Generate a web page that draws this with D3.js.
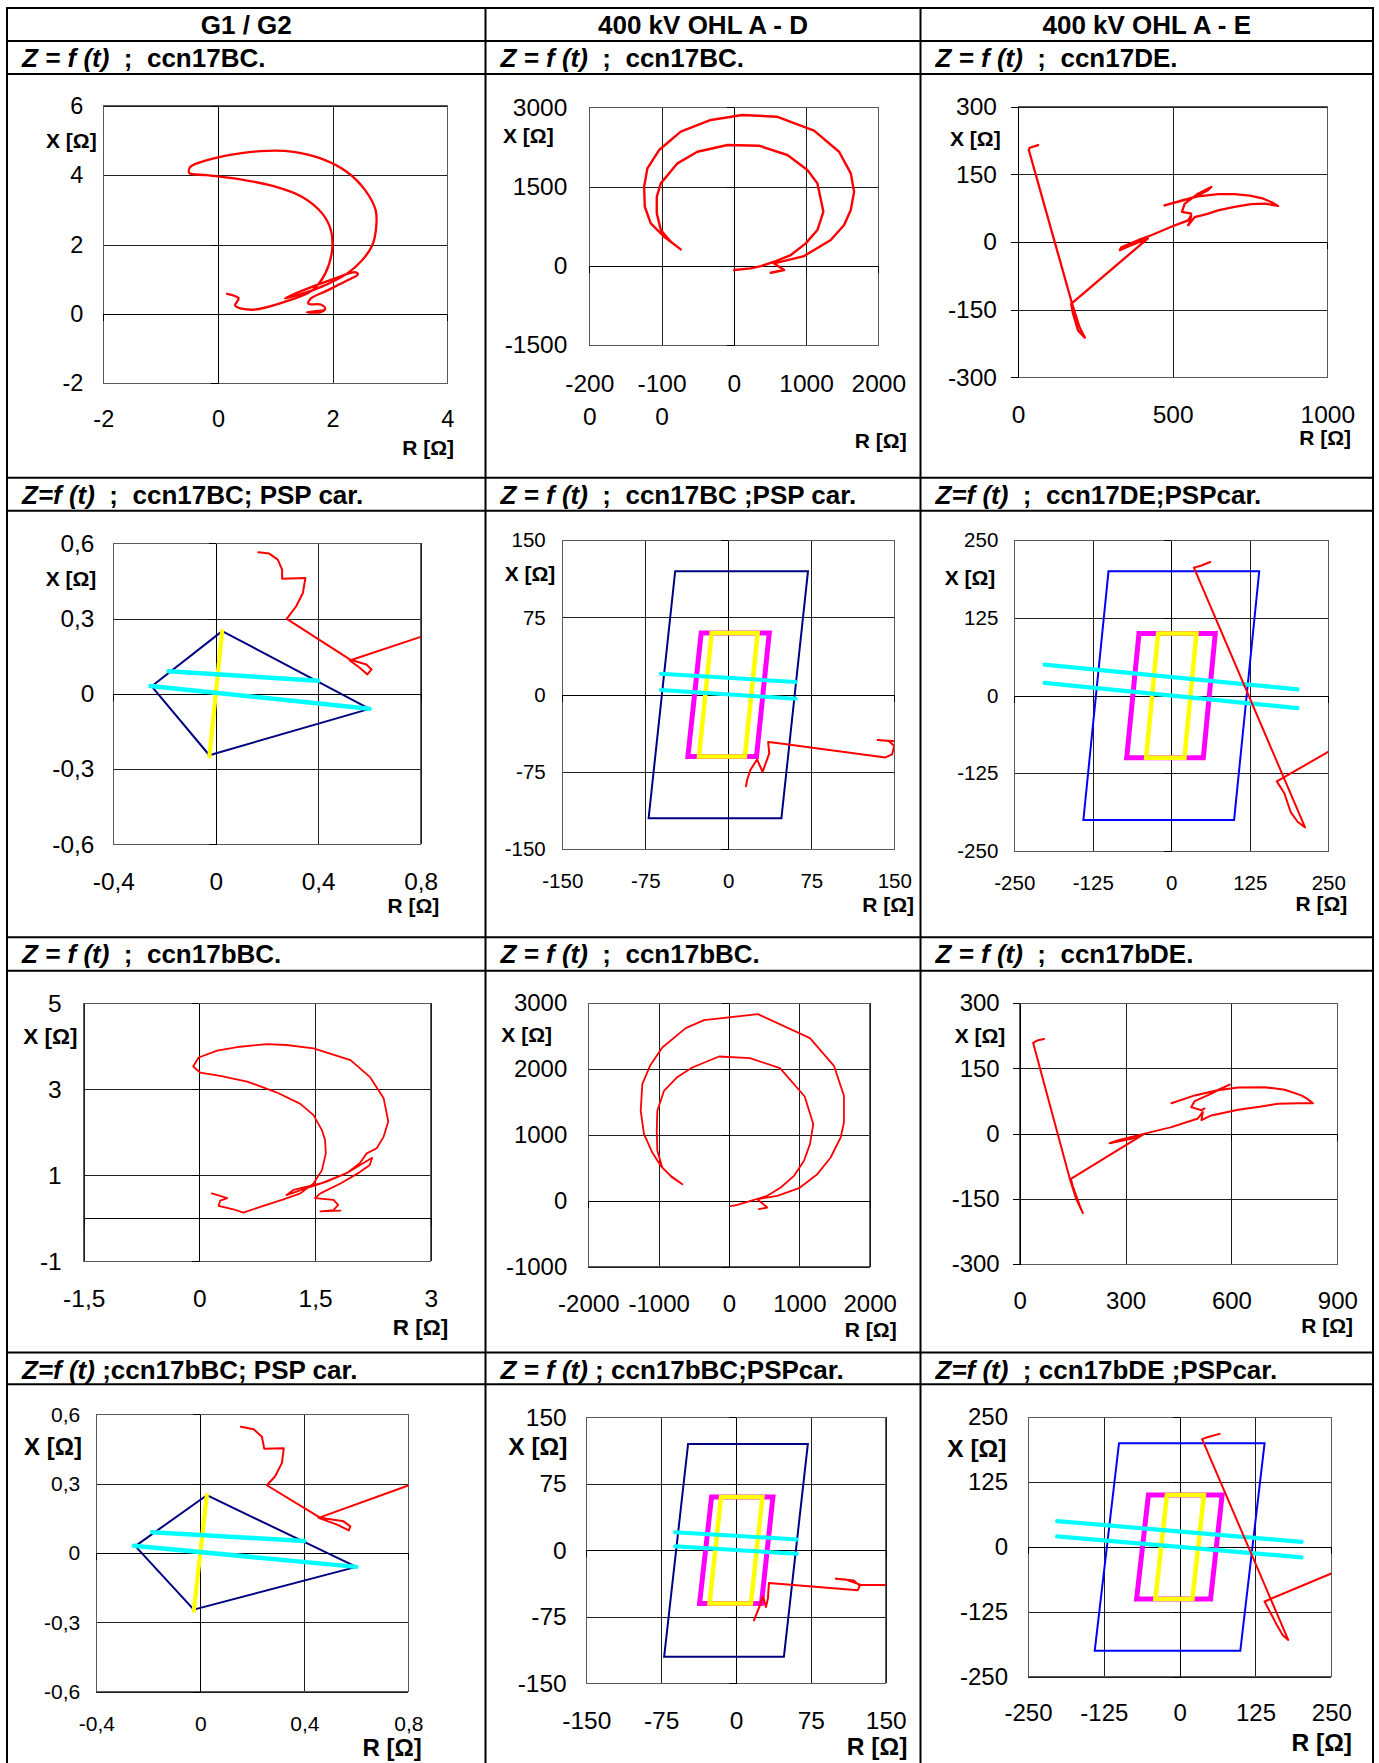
<!DOCTYPE html>
<html>
<head>
<meta charset="utf-8">
<script src="https://cdn.jsdelivr.net/npm/d3@7"></script>
<style>
  body { margin: 0; background: #fff; }
  svg text { font-family: "Liberation Sans", Arial, Helvetica, sans-serif; }
</style>
</head>
<body>
<svg id="chart" width="1379" height="1763"></svg>
<script>
// ---------- table text ----------
const headers = ["G1 / G2", "400 kV OHL A - D", "400 kV OHL A - E"];
const titles = [
  ["Z = f (t)", "  ;  ccn17BC."], ["Z = f (t)", "  ;  ccn17BC."], ["Z = f (t)", "  ;  ccn17DE."],
  ["Z=f (t)", "  ;  ccn17BC; PSP car."], ["Z = f (t)", "  ;  ccn17BC ;PSP car."], ["Z=f (t)", "  ;  ccn17DE;PSPcar."],
  ["Z = f (t)", "  ;  ccn17bBC."], ["Z = f (t)", "  ;  ccn17bBC."], ["Z = f (t)", "  ;  ccn17bDE."],
  ["Z=f (t)", " ;ccn17bBC; PSP car."], ["Z = f (t)", " ; ccn17bBC;PSPcar."], ["Z=f (t)", "  ; ccn17bDE ;PSPcar."]
];

// ---------- axis tick values (R and X in ohms) ----------
const g1BcR = [-2, 0, 2, 4],            g1BcX = [-2, 0, 2, 4, 6];
const adBcR = [-2000, -1000, 0, 1000, 2000], adBcX = [-1500, 0, 1500, 3000];
const aeDeR = [0, 500, 1000],           aeDeX = [-300, -150, 0, 150, 300];
const g1CarR = [-0.4, 0, 0.4, 0.8],     g1CarX = [-0.6, -0.3, 0, 0.3, 0.6];
const adCarR = [-150, -75, 0, 75, 150], adCarX = [-150, -75, 0, 75, 150];
const aeCarR = [-250, -125, 0, 125, 250], aeCarX = [-250, -125, 0, 125, 250];
const g1BbcR = [-1.5, 0, 1.5, 3],       g1BbcX = [-1, 1, 3, 5];
const adBbcR = [-2000, -1000, 0, 1000, 2000], adBbcX = [-1000, 0, 1000, 2000, 3000];
const aeBdeR = [0, 300, 600, 900],      aeBdeX = [-300, -150, 0, 150, 300];

// ---------- impedance trajectories [R, X] ----------
const zG1ccn17BC = [[0.16,0.58],[0.36,0.45],[0.30,0.24],[0.59,0.12],[1.15,0.34],[1.64,0.67],[1.87,1.16],[1.99,1.83],[1.97,2.41],[1.82,2.89],[1.47,3.37],[0.97,3.68],[0.39,3.88],[-0.19,4.00],[-0.50,4.06],[-0.48,4.24],[-0.19,4.43],[0.27,4.60],[0.86,4.70],[1.32,4.67],[1.79,4.48],[2.25,4.09],[2.57,3.56],[2.75,2.99],[2.76,2.50],[2.69,1.97],[2.51,1.54],[2.25,1.16],[1.79,0.77],[1.26,0.48],[1.17,0.45],[1.44,0.65],[2.02,1.01],[2.40,1.20],[2.44,1.14],[2.25,0.96],[1.90,0.67],[1.61,0.43],[1.58,0.29],[1.79,0.27],[1.87,0.15],[1.79,0.05],[1.55,0.05],[1.84,0.10]];
const zADccn17BC = [[512,-133],[696,-81],[558,45],[973,184],[1342,487],[1527,771],[1619,1055],[1665,1402],[1619,1750],[1457,2159],[1111,2557],[595,2822],[119,2854],[-318,2760],[-734,2538],[-1034,2191],[-1196,1845],[-1241,1496],[-1232,1117],[-1149,803],[-965,549],[-734,310],[-872,455],[-1010,676],[-1066,992],[-1066,1307],[-1010,1560],[-780,1939],[-504,2159],[-88,2286],[350,2273],[742,2097],[1019,1813],[1157,1560],[1240,1023],[1157,676],[996,424],[789,203],[558,76],[374,-6],[235,-49],[4,-81]];
const zAEccn17DE = [[65,215],[38,209],[35,204],[175,-137],[199,-189],[216,-212],[194,-196],[178,-159],[172,-137],[420,8],[366,-7],[329,-18],[334,-12],[388,4],[431,15],[507,37],[550,48],[560,59],[555,44],[550,37],[571,55],[610,62],[647,70],[700,78],[754,84],[800,85],[841,80],[820,88],[790,97],[750,103],[700,106],[647,106],[582,101],[539,94],[474,81],[528,91],[571,100],[614,115],[625,122],[582,107],[539,85],[530,67],[560,63]];
const zG1ccn17BCcar = [[0.166,0.564],[0.209,0.559],[0.242,0.535],[0.259,0.495],[0.259,0.459],[0.350,0.462],[0.340,0.402],[0.314,0.349],[0.277,0.299],[0.523,0.137],[0.588,0.117],[0.608,0.097],[0.592,0.077],[0.562,0.104],[0.523,0.133],[0.8,0.227],[1.0,0.295]];
const zADccn17BCcar = [[171,-47],[135,-44],[145,-45],[150,-50],[148,-58],[142,-61],[44,-47],[36,-46],[37,-57],[34,-66],[31,-75],[26,-63],[20,-73],[17,-83],[16,-89]];
const zAEccn17DEcar = [[62,215],[47,209],[36,206],[213,-212],[201,-203],[190,-187],[180,-157],[168,-138],[249,-91],[300,-62]];
const zG1ccn17bBC = [[0.16,0.58],[0.27,0.52],[0.36,0.47],[0.27,0.41],[0.25,0.29],[0.44,0.21],[0.57,0.13],[0.83,0.29],[1.09,0.44],[1.31,0.58],[1.48,0.81],[1.59,1.12],[1.64,1.51],[1.63,1.82],[1.59,2.05],[1.48,2.40],[1.31,2.66],[1.00,2.93],[0.62,3.18],[0.27,3.31],[0.01,3.39],[-0.08,3.53],[-0.01,3.74],[0.23,3.90],[0.53,3.99],[0.87,4.05],[1.13,4.03],[1.48,3.95],[1.96,3.68],[2.21,3.29],[2.39,2.79],[2.45,2.25],[2.39,1.90],[2.30,1.63],[2.17,1.51],[2.08,1.28],[1.91,1.05],[1.65,0.85],[1.39,0.70],[1.13,0.54],[1.22,0.66],[1.57,0.81],[1.91,1.05],[2.24,1.41],[2.21,1.24],[2.06,1.05],[1.83,0.81],[1.57,0.58],[1.50,0.47],[1.74,0.43],[1.80,0.31],[1.74,0.19],[1.57,0.16],[1.83,0.18]];
const zADccn17bBC = [[426,-127],[544,-101],[402,25],[686,76],[995,192],[1255,405],[1445,658],[1587,962],[1634,1190],[1634,1595],[1492,2051],[1151,2471],[412,2835],[-355,2745],[-615,2623],[-948,2329],[-1123,2051],[-1232,1772],[-1255,1367],[-1208,1013],[-1090,734],[-971,532],[-829,380],[-663,253],[-806,354],[-948,506],[-1019,760],[-1027,1063],[-1019,1367],[-924,1671],[-743,1873],[-522,2025],[-142,2192],[298,2167],[725,2015],[1076,1585],[1198,1165],[1151,861],[1066,608],[924,380],[735,202],[544,76],[308,0],[118,-61],[24,-81]];
const zAEccn17bDE = [[69,218],[52,215],[38,209],[142,-104],[160,-150],[179,-183],[170,-165],[150,-120],[145,-104],[354,0],[316,-12],[255,-22],[279,-15],[354,0],[430,15],[505,35],[519,50],[515,31],[543,42],[619,55],[680,62],[732,69],[790,70],[831,70],[815,80],[798,88],[751,101],[694,107],[619,106],[562,100],[496,88],[430,70],[496,88],[560,100],[595,113],[543,92],[496,75],[486,61],[515,54],[524,58]];
const zG1ccn17bBCcar = [[0.156,0.546],[0.205,0.535],[0.237,0.503],[0.246,0.451],[0.321,0.453],[0.314,0.39],[0.288,0.332],[0.256,0.293],[0.462,0.152],[0.551,0.137],[0.577,0.115],[0.571,0.098],[0.526,0.123],[0.455,0.152],[0.8,0.292],[1.0,0.373]];
const zADccn17bBCcar = [[182,-40],[150,-39],[125,-39],[110,-33],[100,-32],[118,-34],[124,-40],[122,-45],[33,-37],[32,-54],[30,-64],[27,-52],[23,-65],[18,-79]];
const zAEccn17bDEcar = [[66,218],[47,212],[37,208],[179,-179],[170,-170],[160,-150],[140,-105],[250,-51],[300,-27]];

// ---------- protection characteristics [R, X] ----------
const g1Quad = [[0.025,0.25],[0.6,-0.06],[-0.025,-0.245],[-0.25,0.03]];
const g1Yellow = [[0.025,0.25],[-0.025,-0.25]];
const g1CyanUpper = [[-0.185,0.09],[0.4,0.052]];
const g1CyanLower = [[-0.255,0.031],[0.6,-0.06]];

const adOuter = [[-48,120],[72,120],[48,-120],[-72,-120]];
const adMagenta = [[-24.5,60],[37,60],[25.5,-60],[-36.5,-60]];
const adYellow = [[-15,60],[26.5,60],[15,-60],[-26.5,-60]];
const adCyanUpper = [[-61,20.3],[61,12.3]];
const adCyanLower = [[-61,4.5],[61,-4]];

const aeOuter = [[-100,200],[140,200],[100,-200],[-140,-200]];
const aeMagenta = [[-51.5,100],[70,100],[51,-100],[-71,-100]];
const aeYellow = [[-21,100],[40,100],[21,-100],[-40,-100]];
const aeCyanUpper = [[-202,50],[201,10]];
const aeCyanLower = [[-202,20.5],[201,-20]];

// ---------- styling ----------
const FONT = '"Liberation Sans", Arial, Helvetica, sans-serif';
const RED = "#ff0000", NAVY = "#000080", BLUE = "#0000ff", MAGENTA = "#ff00ff", YELLOW = "#ffff00", CYAN = "#00ffff";
const loc = d3.formatLocale({ decimal: ",", thousands: "", grouping: [3], currency: ["", ""], minus: "-" });
const fmt = loc.format("~g");

const svg = d3.select("#chart");
const defs = svg.append("defs");

// table frame
const colX = [7, 485.5, 920.5, 1373];
const rowY = [8, 41, 74, 477.7, 510.7, 937.3, 970.7, 1352.5, 1384.3];
const titleTops = [41, 477.7, 937.3, 1352.5];
const frame = svg.append("g").attr("stroke", "#000").attr("stroke-width", 2);
rowY.forEach(yv => frame.append("line").attr("x1", colX[0] - 1).attr("x2", colX[3] + 1).attr("y1", yv).attr("y2", yv));
colX.forEach(xv => frame.append("line").attr("x1", xv).attr("x2", xv).attr("y1", rowY[0] - 1).attr("y2", 1763));

headers.forEach((h, i) => {
  svg.append("text").attr("x", (colX[i] + colX[i + 1]) / 2).attr("y", 33.5)
    .attr("text-anchor", "middle").attr("font-weight", "bold").attr("font-size", 26).text(h);
});

titles.forEach((t, i) => {
  const col = i % 3, row = Math.floor(i / 3);
  const txt = svg.append("text").attr("x", colX[col] + 15).attr("y", titleTops[row] + 26)
    .attr("font-weight", "bold").attr("font-size", 26).style("white-space", "pre");
  txt.append("tspan").attr("font-style", "italic").text(t[0]);
  txt.append("tspan").text(t[1]);
});

// ---------- panels ----------
function lineSet(kind) {
  if (kind === "g1") return [
    { data: g1Quad, color: NAVY, width: 2, closed: true },
    { data: g1Yellow, color: YELLOW, width: 4.2 },
    { data: g1CyanUpper, color: CYAN, width: 4.5 },
    { data: g1CyanLower, color: CYAN, width: 4.5 }
  ];
  if (kind === "ad") return [
    { data: adOuter, color: NAVY, width: 2, closed: true, join: "miter" },
    { data: adMagenta, color: MAGENTA, width: 5, closed: true, join: "miter" },
    { data: adYellow, color: YELLOW, width: 4.5, closed: true, join: "miter" },
    { data: adCyanUpper, color: CYAN, width: 4 },
    { data: adCyanLower, color: CYAN, width: 4 }
  ];
  return [
    { data: aeOuter, color: BLUE, width: 2, closed: true, join: "miter" },
    { data: aeMagenta, color: MAGENTA, width: 5, closed: true, join: "miter" },
    { data: aeYellow, color: YELLOW, width: 4.5, closed: true, join: "miter" },
    { data: aeCyanUpper, color: CYAN, width: 4.2 },
    { data: aeCyanLower, color: CYAN, width: 4.2 }
  ];
}

const panels = [
  { id: 1, rT: g1BcR, xT: g1BcX, box: [103.3, 447.3, 105.7, 383.3], tick: 23.5, xPad: 27, yPad: 20, ax: 21, xLab: [46, 140], rLab: [454, 447],
    series: [{ data: zG1ccn17BC, color: RED, width: 2.3, smooth: true }] },
  { id: 2, rT: adBcR, xT: adBcX, box: [589.3, 878.3, 107.3, 345], tick: 24.5, xPad: 30, yPad: 22, ax: 21, xLab: [503, 135], rLab: [906.7, 440], wrap: 4,
    series: [{ data: zADccn17BC, color: RED, width: 2.4 }] },
  { id: 3, rT: aeDeR, xT: aeDeX, box: [1018, 1327.3, 106.7, 377.3], tick: 24.5, xPad: 28, yPad: 21, ax: 21, xLab: [950, 138], rLab: [1351, 437.5],
    series: [{ data: zAEccn17DE, color: RED, width: 2.3 }] },
  { id: 4, rT: g1CarR, xT: g1CarX, box: [113.3, 420.7, 543.3, 844.3], tick: 24.4, xPad: 28, yPad: 19, ax: 21, xLab: [45.7, 578.3], rLab: [439.3, 905],
    series: lineSet("g1").concat([{ data: zG1ccn17BCcar, color: RED, width: 2 }]) },
  { id: 5, rT: adCarR, xT: adCarX, box: [562.3, 894.3, 540.3, 849], tick: 20.5, xPad: 24, yPad: 16.6, ax: 21, xLab: [504.7, 573.3], rLab: [914, 904],
    series: lineSet("ad").concat([{ data: zADccn17BCcar, color: RED, width: 2 }]) },
  { id: 6, rT: aeCarR, xT: aeCarX, box: [1014.3, 1328.3, 540.3, 851], tick: 20.5, xPad: 24, yPad: 16, ax: 21, xLab: [944.7, 577.3], rLab: [1347.3, 903],
    series: lineSet("ae").concat([{ data: zAEccn17DEcar, color: RED, width: 2 }]) },
  { id: 7, rT: g1BbcR, xT: g1BbcX, box: [83.7, 430.7, 1003.3, 1261.3], tick: 24.5, xPad: 28.7, yPad: 22, ax: 22.5, xLab: [23.3, 1036], rLab: [448.3, 1327.5],
    series: [{ data: zG1ccn17bBC, color: RED, width: 1.8 }] },
  { id: 8, rT: adBbcR, xT: adBbcX, box: [588.3, 869.7, 1003.3, 1266.7], tick: 24, xPad: 28, yPad: 21, ax: 21, xLab: [501.3, 1034], rLab: [896.7, 1329],
    series: [{ data: zADccn17bBC, color: RED, width: 1.8 }] },
  { id: 9, rT: aeBdeR, xT: aeBdeX, box: [1019.7, 1337.3, 1003.3, 1264], tick: 24, xPad: 27.5, yPad: 20, ax: 21, xLab: [954.7, 1035], rLab: [1353, 1325],
    series: [{ data: zAEccn17bDE, color: RED, width: 2 }] },
  { id: 10, rT: g1CarR, xT: g1CarX, box: [96.3, 408.3, 1414.3, 1691.7], tick: 21, xPad: 24, yPad: 16, ax: 24, xLab: [24, 1446.7], rLab: [421.7, 1747.5],
    series: lineSet("g1").concat([{ data: zG1ccn17bBCcar, color: RED, width: 2 }]) },
  { id: 11, rT: adCarR, xT: adCarX, box: [586.3, 885.7, 1417.3, 1683.3], tick: 24.5, xPad: 28, yPad: 19.6, ax: 24.5, xLab: [508.3, 1446.7], rLab: [907.3, 1746],
    series: lineSet("ad").concat([{ data: zADccn17bBCcar, color: RED, width: 2 }]) },
  { id: 12, rT: aeCarR, xT: aeCarX, box: [1028, 1331.3, 1417.3, 1676.7], tick: 24, xPad: 27.5, yPad: 20, ax: 24.5, xLab: [947.3, 1448.3], rLab: [1352, 1742],
    series: lineSet("ae").concat([{ data: zAEccn17bDEcar, color: RED, width: 2 }]) }
];

function drawPanel(p) {
  const [L, R, T, B] = p.box;
  const x = d3.scaleLinear().domain(d3.extent(p.rT)).range([L, R]);
  const y = d3.scaleLinear().domain(d3.extent(p.xT)).range([B, T]);
  const g = svg.append("g");

  // gridlines
  const grid = g.append("g");
  grid.append("g").attr("transform", `translate(${L},0)`)
    .call(d3.axisLeft(y).tickValues(p.xT).tickSize(-(R - L)).tickSizeOuter(0).tickFormat(""));
  grid.append("g").attr("transform", `translate(0,${B})`)
    .call(d3.axisBottom(x).tickValues(p.rT).tickSize(-(B - T)).tickSizeOuter(0).tickFormat(""));
  grid.selectAll(".domain").remove();
  grid.selectAll("line").attr("stroke", "#1f1f1f").attr("stroke-width", 1).attr("shape-rendering", "crispEdges");

  // plot-area border
  g.append("rect").attr("x", L).attr("y", T).attr("width", R - L).attr("height", B - T)
    .attr("fill", "none").attr("stroke", "#5a5a5a").attr("stroke-width", 1).attr("shape-rendering", "crispEdges");

  // value axes through the origin, with outside tick marks
  const axes = g.append("g");
  axes.append("g").attr("transform", `translate(${x(0)},0)`)
    .call(d3.axisLeft(y).tickValues(p.xT).tickSize(7).tickSizeOuter(0).tickFormat(""));
  axes.append("g").attr("transform", `translate(0,${y(0)})`)
    .call(d3.axisBottom(x).tickValues(p.rT).tickSize(7).tickSizeOuter(0).tickFormat(""));
  axes.selectAll("path, line").attr("stroke", "#000").attr("stroke-width", 1).attr("shape-rendering", "crispEdges");

  // tick labels at the low side of the plot area
  const yl = g.append("g").attr("transform", `translate(${L},0)`)
    .call(d3.axisLeft(y).tickValues(p.xT).tickSize(0).tickPadding(p.yPad).tickFormat(fmt));
  const xl = g.append("g").attr("transform", `translate(0,${B})`)
    .call(d3.axisBottom(x).tickValues(p.rT).tickSize(0).tickPadding(p.xPad).tickFormat(fmt));
  [yl, xl].forEach(a => {
    a.select(".domain").remove();
    a.attr("font-size", p.tick).attr("font-family", FONT);
    a.selectAll("text").attr("fill", "#000");
  });
  if (p.wrap) {
    xl.selectAll("text").each(function () {
      const t = d3.select(this), s = t.text();
      if (s.length > p.wrap) {
        t.text(null);
        t.append("tspan").attr("x", 0).text(s.slice(0, p.wrap));
        t.append("tspan").attr("x", 0).attr("dy", "1.35em").text(s.slice(p.wrap));
      }
    });
  }

  // axis titles
  g.append("text").attr("x", p.xLab[0]).attr("y", p.xLab[1]).attr("dominant-baseline", "central")
    .attr("font-weight", "bold").attr("font-size", p.ax).text("X [Ω]");
  g.append("text").attr("x", p.rLab[0]).attr("y", p.rLab[1]).attr("dominant-baseline", "central")
    .attr("text-anchor", "end").attr("font-weight", "bold").attr("font-size", p.ax).text("R [Ω]");

  // characteristics and trajectory, clipped to the plot area
  const clipId = "plotclip" + p.id;
  defs.append("clipPath").attr("id", clipId).append("rect")
    .attr("x", L).attr("y", T).attr("width", R - L).attr("height", B - T);
  const marks = g.append("g").attr("clip-path", `url(#${clipId})`);
  p.series.forEach(s => {
    const curve = s.closed ? d3.curveLinearClosed : (s.smooth ? d3.curveCatmullRom.alpha(0.5) : d3.curveLinear);
    const line = d3.line().x(d => x(d[0])).y(d => y(d[1])).curve(curve);
    marks.append("path").attr("d", line(s.data))
      .attr("fill", "none").attr("stroke", s.color).attr("stroke-width", s.width)
      .attr("stroke-linejoin", s.join || "round").attr("stroke-linecap", "round");
  });
}

panels.forEach(drawPanel);
</script>
</body>
</html>
